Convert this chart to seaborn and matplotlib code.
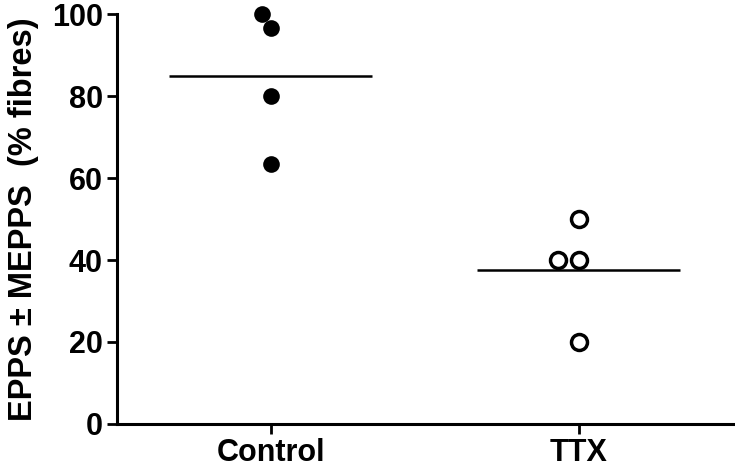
import matplotlib
matplotlib.use("Agg")
import matplotlib.pyplot as plt
import seaborn as sns
import pandas as pd

groups = ["Control", "TTX"]
control_values = [100, 96.5, 80, 63.4]
ttx_values = [50, 40, 40, 20]
y_ticks = [0, 20, 40, 60, 80, 100]
y_label = "EPPS \u00b1 MEPPS  (% fibres)"

df = pd.DataFrame({
    "group": ["Control"] * len(control_values) + ["TTX"] * len(ttx_values),
    "value": control_values + ttx_values,
})

sns.set_theme(style="ticks")
plt.rcParams["font.family"] = ["Liberation Sans", "DejaVu Sans"]
plt.rcParams["font.weight"] = "bold"

fig = plt.figure(figsize=(7.35, 4.7), dpi=100)
ax = fig.add_axes([0.159, 0.098, 0.838, 0.872])

# mean lines
sns.boxplot(data=df, x="group", y="value", order=groups, ax=ax,
            showmeans=True, meanline=True, showbox=False, showcaps=False,
            showfliers=False, width=0.66,
            whiskerprops=dict(visible=False), medianprops=dict(visible=False),
            meanprops=dict(color="black", linestyle="-", linewidth=1.8))

sns.swarmplot(data=df[df.group == "Control"], x="group", y="value", order=groups,
              ax=ax, color="black", size=12, linewidth=0, clip_on=False, zorder=3)
sns.swarmplot(data=df[df.group == "TTX"], x="group", y="value", order=groups,
              ax=ax, color="white", edgecolor="black", linewidth=2.5, size=11.5,
              clip_on=False, zorder=3)

ax.set_ylim(0, 100)
ax.set_xlim(-0.5, 1.5)
ax.set_yticks(y_ticks)
ax.set_xlabel("")
ax.set_ylabel(y_label, fontsize=23.5, fontweight="bold", color="black", labelpad=9)
sns.despine(ax=ax)
for s in ["left", "bottom"]:
    ax.spines[s].set_linewidth(2.2)
    ax.spines[s].set_color("black")
ax.tick_params(axis="both", width=2.0, length=7, color="black", labelcolor="black",
               labelsize=22, pad=3)
for lbl in ax.get_xticklabels() + ax.get_yticklabels():
    lbl.set_fontweight("bold")

fig.savefig("out.png", dpi=100)
